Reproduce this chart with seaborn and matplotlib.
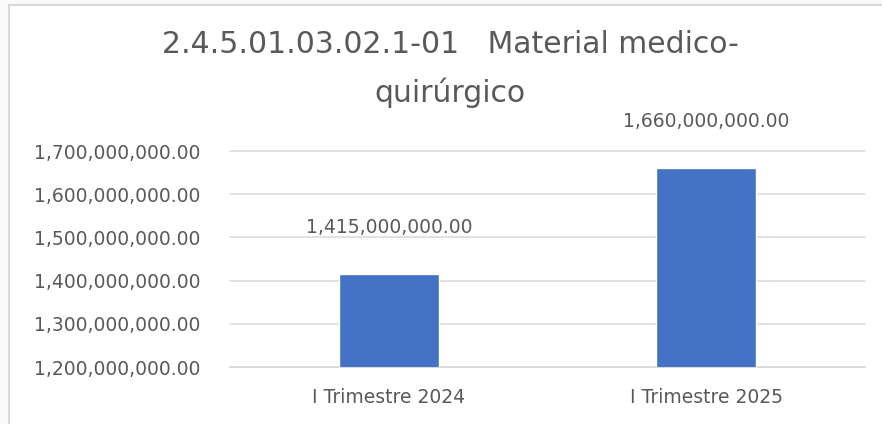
import matplotlib
matplotlib.use("Agg")
import matplotlib.pyplot as plt
import matplotlib.patches as mpatches
from matplotlib.ticker import FuncFormatter
import pandas as pd
import seaborn as sns

# data
periods = ["I Trimestre 2024", "I Trimestre 2025"]
amounts = [1415000000, 1660000000]
y_ticks = [1200000000, 1300000000, 1400000000, 1500000000, 1600000000, 1700000000]
title = "2.4.5.01.03.02.1-01   Material medico-\nquirúrgico"

sns.set_theme(style="white")
plt.rcParams["font.family"] = ["DejaVu Sans"]

text_col = "#595959"
grid_col = "#D9D9D9"
bar_col = "#4472C4"

W, H = 882, 424
fig = plt.figure(figsize=(W / 100, H / 100), dpi=100, facecolor="#FAFAF8")

# chart area frame (Excel style), left and top edge visible
frame = mpatches.Rectangle((8.5 / W, -0.05), 1.1, (H - 5.5) / H + 0.05,
                           transform=fig.transFigure, facecolor="white",
                           edgecolor=grid_col, linewidth=1.5, zorder=-10)
fig.patches.append(frame)

ax = fig.add_axes([230 / W, 1 - 367 / H, (865 - 230) / W, (367 - 151) / H])
ax.set_facecolor("none")

df = pd.DataFrame({"period": periods, "amount": amounts})
sns.barplot(data=df, x="period", y="amount", color=bar_col, width=0.315,
            saturation=1, ax=ax, zorder=3)

ax.set_ylim(y_ticks[0], y_ticks[-1])
ax.set_yticks(y_ticks)
ax.yaxis.set_major_formatter(FuncFormatter(lambda v, p: f"{v:,.2f}"))
ax.set_xlabel("")
ax.set_ylabel("")

ax.grid(axis="y", color=grid_col, linewidth=1.1, zorder=0)
ax.set_axisbelow(True)
for gl in ax.get_ygridlines():
    gl.set_clip_on(False)
for s in ["top", "right", "left"]:
    ax.spines[s].set_visible(False)
ax.spines["bottom"].set_color(grid_col)
ax.spines["bottom"].set_linewidth(1.1)

ax.tick_params(axis="y", length=0, pad=21, labelsize=13.5, labelcolor=text_col)
ax.tick_params(axis="x", length=0, pad=15, labelsize=13.5, labelcolor=text_col)

for cont in ax.containers:
    ax.bar_label(cont, labels=[f"{v:,.2f}" for v in amounts], padding=27,
                 fontsize=13.5, color=text_col)

fig.text(450 / W, 1 - 69 / H, title, ha="center", va="center",
         fontsize=21.5, color=text_col, linespacing=1.75)

fig.savefig("out.png", dpi=100, facecolor=fig.get_facecolor())
